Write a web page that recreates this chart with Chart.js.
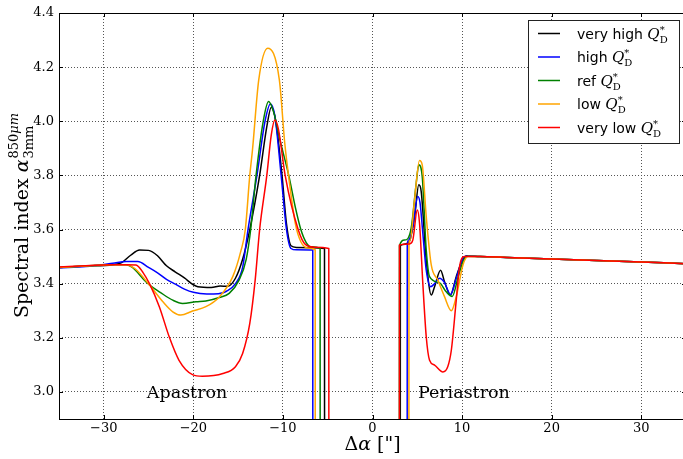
<!DOCTYPE html>
<html>
<head>
<meta charset="utf-8">
<script src="https://cdn.jsdelivr.net/npm/chart.js@4/dist/chart.umd.min.js"></script>
<style>
  html, body { margin: 0; padding: 0; background: #fff; overflow: hidden; }
  #cadre { width: 686px; height: 459px; }
</style>
</head>
<body>
<div id="cadre"><canvas id="graphe" width="686" height="459"></canvas></div>
<script>
// Indice spectral α(850µm / 3mm) le long de Δα, pour 5 valeurs de Q_D*.
// Chaque courbe : paires [Δα, indice] ; [x, null] coupe la courbe.

const veryHighQ = [
  [-35, 3.460], [-32, 3.465], [-29, 3.470], [-28, 3.478], [-27, 3.505], [-26, 3.524],
  [-25, 3.523], [-24, 3.503], [-23, 3.466], [-22, 3.443], [-21, 3.421], [-20, 3.396],
  [-19.5, 3.389], [-18, 3.386], [-17, 3.391], [-16.2, 3.390], [-15.3, 3.420], [-14.5, 3.490],
  [-13.7, 3.600], [-12.6, 3.800], [-11.8, 3.980], [-11.3, 4.052], [-10.8, 4.000], [-10.1, 3.800],
  [-9.6, 3.620], [-9.1, 3.540], [-8.5, 3.534], [-5.36, 3.530], [-5.35, 2.5],
  [0, null],
  [3.10, 2.5], [3.11, 3.540], [3.4, 3.545], [4.1, 3.555], [4.7, 3.648], [5.17, 3.765],
  [5.44, 3.740], [6.0, 3.487], [6.56, 3.358], [6.93, 3.389], [7.6, 3.450], [8.04, 3.407],
  [8.7, 3.358], [9.35, 3.426], [9.9, 3.475], [10.45, 3.502], [12, 3.500], [15, 3.497],
  [20, 3.491], [25, 3.486], [30, 3.480], [35, 3.474],
]

const highQ = [
  [-35, 3.458], [-32, 3.463], [-29, 3.475], [-27.5, 3.482], [-26.2, 3.482], [-25, 3.460],
  [-24, 3.440], [-23, 3.416], [-22, 3.398], [-21, 3.380], [-20, 3.368], [-18.5, 3.362],
  [-17.2, 3.363], [-16.3, 3.372], [-15.3, 3.400], [-14.5, 3.460], [-13.9, 3.600], [-12.9, 3.800],
  [-12.0, 4.000], [-11.4, 4.064], [-10.9, 4.020], [-10.2, 3.800], [-9.6, 3.600], [-9.1, 3.530],
  [-8.5, 3.525], [-6.67, 3.524], [-6.66, 2.5],
  [0, null],
  [3.87, 2.5], [3.88, 3.540], [4.0, 3.560], [4.5, 3.610], [5.06, 3.722], [5.3, 3.700],
  [5.62, 3.586], [6.0, 3.450], [6.5, 3.389], [6.93, 3.400], [7.49, 3.420], [8.04, 3.404],
  [8.7, 3.360], [9.35, 3.420], [10.1, 3.494], [10.5, 3.502], [12, 3.500], [15, 3.497],
  [20, 3.491], [25, 3.486], [30, 3.480], [35, 3.474],
]

const refQ = [
  [-35, 3.460], [-32, 3.465], [-29, 3.470], [-27.5, 3.470], [-26.8, 3.460], [-25.3, 3.407],
  [-24.5, 3.385], [-23.8, 3.370], [-22.3, 3.339], [-21.2, 3.327], [-19.7, 3.333], [-18.6, 3.336],
  [-17.1, 3.349], [-16.0, 3.364], [-14.9, 3.413], [-14.1, 3.490], [-13.6, 3.600], [-13.0, 3.800],
  [-12.2, 4.000], [-11.6, 4.073], [-11.0, 4.030], [-10.4, 3.940], [-9.35, 3.800], [-8.6, 3.680],
  [-8.0, 3.600], [-7.4, 3.552], [-6.8, 3.536], [-5.85, 3.530], [-5.84, 2.5],
  [0, null],
  [3.00, 2.5], [3.01, 3.540], [3.58, 3.561], [4.32, 3.605], [4.88, 3.771], [5.17, 3.839],
  [5.55, 3.796], [6.0, 3.524], [6.37, 3.426], [7.49, 3.403], [8.23, 3.370], [8.9, 3.353],
  [9.6, 3.430], [10.2, 3.488], [10.6, 3.501], [12, 3.500], [15, 3.497],
  [20, 3.491], [25, 3.486], [30, 3.480], [35, 3.474],
]

const lowQ = [
  [-35, 3.460], [-32, 3.465], [-29, 3.470], [-27.5, 3.470], [-26.5, 3.455], [-24.9, 3.395],
  [-23.4, 3.333], [-22.3, 3.296], [-21.4, 3.284], [-20.1, 3.299], [-18.6, 3.315], [-17.1, 3.351],
  [-15.6, 3.426], [-14.7, 3.520], [-14.2, 3.600], [-13.7, 3.800], [-13.4, 3.894], [-12.7, 4.153],
  [-11.7, 4.270], [-10.4, 4.153], [-9.8, 3.920], [-9.3, 3.780], [-8.6, 3.620], [-8.0, 3.555],
  [-7.2, 3.532], [-6.40, 3.525], [-6.39, 2.5],
  [0, null],
  [4.06, 2.5], [4.07, 3.545], [4.2, 3.560], [4.69, 3.709], [5.25, 3.855], [5.55, 3.839],
  [6.0, 3.648], [6.56, 3.469], [7.3, 3.413], [8.04, 3.352], [8.8, 3.300], [9.35, 3.352],
  [10.1, 3.469], [10.65, 3.500], [12, 3.500], [15, 3.497],
  [20, 3.491], [25, 3.486], [30, 3.480], [35, 3.474],
]

const veryLowQ = [
  [-35, 3.462], [-32, 3.466], [-29, 3.470], [-27.5, 3.470], [-26.4, 3.469], [-25.6, 3.440],
  [-24.9, 3.400], [-23.8, 3.315], [-22.7, 3.204], [-21.6, 3.117], [-20.1, 3.064], [-19.0, 3.058],
  [-16.7, 3.068], [-15.3, 3.093], [-14.5, 3.142], [-13.7, 3.253], [-13.1, 3.413], [-12.6, 3.600],
  [-11.8, 3.800], [-11.3, 3.950], [-10.9, 4.005], [-10.5, 3.970], [-9.75, 3.800], [-8.3, 3.600],
  [-7.5, 3.545], [-6.5, 3.535], [-4.88, 3.530], [-4.87, 2.5],
  [0, null],
  [3.00, 2.5], [3.01, 3.543], [4.13, 3.547], [4.5, 3.561], [5.0, 3.672], [5.25, 3.623],
  [5.62, 3.400], [6.0, 3.204], [6.37, 3.117], [6.93, 3.099], [7.86, 3.074], [8.4, 3.093],
  [8.8, 3.154], [9.35, 3.339], [9.72, 3.463], [10.28, 3.500], [12, 3.500], [15, 3.497],
  [20, 3.491], [25, 3.486], [30, 3.480], [35, 3.474],
]

const seriesLabels = ['very high', 'high', 'ref', 'low', 'very low']
const xTicks = [-30, -20, -10, 0, 10, 20, 30]
const yTicks = [3.0, 3.2, 3.4, 3.6, 3.8, 4.0, 4.2, 4.4]

const COULEURS = ['#000000', '#0000ff', '#008000', '#ffa500', '#ff0000']
const GRILLE = '#555555'
const SERIF = "'DejaVu Serif', serif"
const SANS = "'DejaVu Sans', sans-serif"

// Écrit une suite de morceaux de texte (police, décalage vertical) ; renvoie la largeur.
function morceaux(ctx, parts, x, y, dessiner = true) {
  let cx = x
  for (const p of parts) {
    ctx.font = p.font
    if (dessiner) ctx.fillText(p.t, cx, y + (p.dy || 0))
    cx += ctx.measureText(p.t).width
  }
  return cx - x
}

// Cadre + petites graduations tournées vers l'intérieur
const cadre = {
  id: 'cadre',
  afterDatasetsDraw(chart) {
    const { ctx, chartArea: a, scales: { x, y } } = chart
    ctx.save()
    ctx.strokeStyle = '#000'
    ctx.lineWidth = 1
    ctx.beginPath()
    for (const v of xTicks) {
      const px = Math.round(x.getPixelForValue(v)) + 0.5
      ctx.moveTo(px, a.bottom); ctx.lineTo(px, a.bottom - 4)
      ctx.moveTo(px, a.top); ctx.lineTo(px, a.top + 4)
    }
    for (const v of yTicks) {
      const py = Math.round(y.getPixelForValue(v)) + 0.5
      ctx.moveTo(a.left, py); ctx.lineTo(a.left + 4, py)
      ctx.moveTo(a.right, py); ctx.lineTo(a.right - 4, py)
    }
    ctx.stroke()
    ctx.strokeRect(Math.round(a.left) + 0.5, Math.round(a.top) + 0.5,
      Math.round(a.right - a.left), Math.round(a.bottom - a.top))
    ctx.restore()
  },
}

// Titres des axes, repères Apastron / Periastron, légende
const textes = {
  id: 'textes',
  afterDraw(chart) {
    const { ctx, chartArea: a, scales: { x, y } } = chart
    ctx.save()
    ctx.fillStyle = '#000'
    ctx.textBaseline = 'alphabetic'
    ctx.textAlign = 'center'

    ctx.font = `17.5px ${SERIF}`
    ctx.fillText('Apastron', x.getPixelForValue(-20.7), y.getPixelForValue(2.978))
    ctx.fillText('Periastron', x.getPixelForValue(10.2), y.getPixelForValue(2.978))

    ctx.textAlign = 'left'

    // Δα ["]
    const titreX = [
      { t: 'Δ', font: `19px ${SERIF}` },
      { t: 'α', font: `italic 19px ${SERIF}` },
      { t: ' ["]', font: `19px ${SERIF}` },
    ]
    const wx = morceaux(ctx, titreX, 0, 0, false)
    morceaux(ctx, titreX, x.getPixelForValue(0) - wx / 2, 450)

    // Spectral index α_3mm^850µm (vertical)
    ctx.save()
    ctx.translate(28, (a.top + a.bottom) / 2)
    ctx.rotate(-Math.PI / 2)
    const base = [
      { t: 'Spectral index ', font: `19px ${SERIF}` },
      { t: 'α', font: `italic 19px ${SERIF}` },
    ]
    const sub = [{ t: '3mm', font: `13px ${SERIF}` }]
    const sup = [
      { t: '850', font: `13px ${SERIF}` },
      { t: 'μm', font: `italic 13px ${SERIF}` },
    ]
    const wb = morceaux(ctx, base, 0, 0, false)
    const ws = Math.max(morceaux(ctx, sub, 0, 0, false), morceaux(ctx, sup, 0, 0, false))
    const x0 = -(wb + ws) / 2
    morceaux(ctx, base, x0, 0)
    morceaux(ctx, sub, x0 + wb + 1, 5)
    morceaux(ctx, sup, x0 + wb + 1, -10)
    ctx.restore()

    // légende encadrée
    const boite = { left: 528.5, top: 20.5, width: 151, height: 123 }
    ctx.fillStyle = '#fff'
    ctx.fillRect(boite.left, boite.top, boite.width, boite.height)
    ctx.strokeStyle = '#222'
    ctx.lineWidth = 1
    ctx.strokeRect(boite.left, boite.top, boite.width, boite.height)
    chart.data.datasets.forEach((ds, i) => {
      const ry = 33.5 + i * 23.5
      ctx.strokeStyle = ds.borderColor
      ctx.lineWidth = 1.5
      ctx.beginPath()
      ctx.moveTo(538, ry); ctx.lineTo(560, ry)
      ctx.stroke()
      ctx.fillStyle = '#000'
      const w = morceaux(ctx, [
        { t: ds.label + ' ', font: `14px ${SANS}` },
        { t: 'Q', font: `italic 15px ${SERIF}` },
      ], 577, ry + 5)
      morceaux(ctx, [{ t: 'D', font: `10px ${SERIF}` }], 577 + w, ry + 9)
      morceaux(ctx, [{ t: '*', font: `10px ${SERIF}` }], 577 + w, ry - 1)
    })
    ctx.restore()
  },
}

const series = [veryHighQ, highQ, refQ, lowQ, veryLowQ]

new Chart(document.getElementById('graphe').getContext('2d'), {
  type: 'line',
  data: {
    datasets: series.map((pts, i) => ({
      label: seriesLabels[i],
      data: pts.map(([px, py]) => ({ x: px, y: py })),
      borderColor: COULEURS[i],
      borderWidth: 1.5,
      pointRadius: 0,
      fill: false,
      spanGaps: false,
      cubicInterpolationMode: 'monotone',
      order: series.length - i,   // le rouge passe au-dessus
    })),
  },
  options: {
    responsive: false,
    animation: false,
    devicePixelRatio: 1,
    layout: { padding: { top: 13, left: 0, right: 0, bottom: 0 } },
    plugins: { legend: { display: false }, tooltip: { enabled: false } },
    scales: {
      x: {
        type: 'linear', min: -35, max: 35,
        afterBuildTicks: s => { s.ticks = xTicks.map(value => ({ value })) },
        afterFit: s => { s.height = 40 },
        ticks: {
          color: '#000', font: { family: SERIF, size: 13 }, padding: 2,
          maxRotation: 0, autoSkip: false,
          callback: v => (v < 0 ? '\u2212' + (-v) : String(v)),
        },
        grid: { color: GRILLE, lineWidth: 1, drawTicks: false },
        border: { display: false, dash: [1, 2] },
      },
      y: {
        type: 'linear', min: 2.9, max: 4.4,
        afterBuildTicks: s => { s.ticks = yTicks.map(value => ({ value })) },
        afterFit: s => { s.width = 59 },
        ticks: {
          color: '#000', font: { family: SERIF, size: 13 }, padding: 5,
          autoSkip: false, callback: v => v.toFixed(1),
        },
        grid: { color: GRILLE, lineWidth: 1, drawTicks: false },
        border: { display: false, dash: [1, 2] },
      },
    },
  },
  plugins: [cadre, textes],
})
</script>
</body>
</html>
